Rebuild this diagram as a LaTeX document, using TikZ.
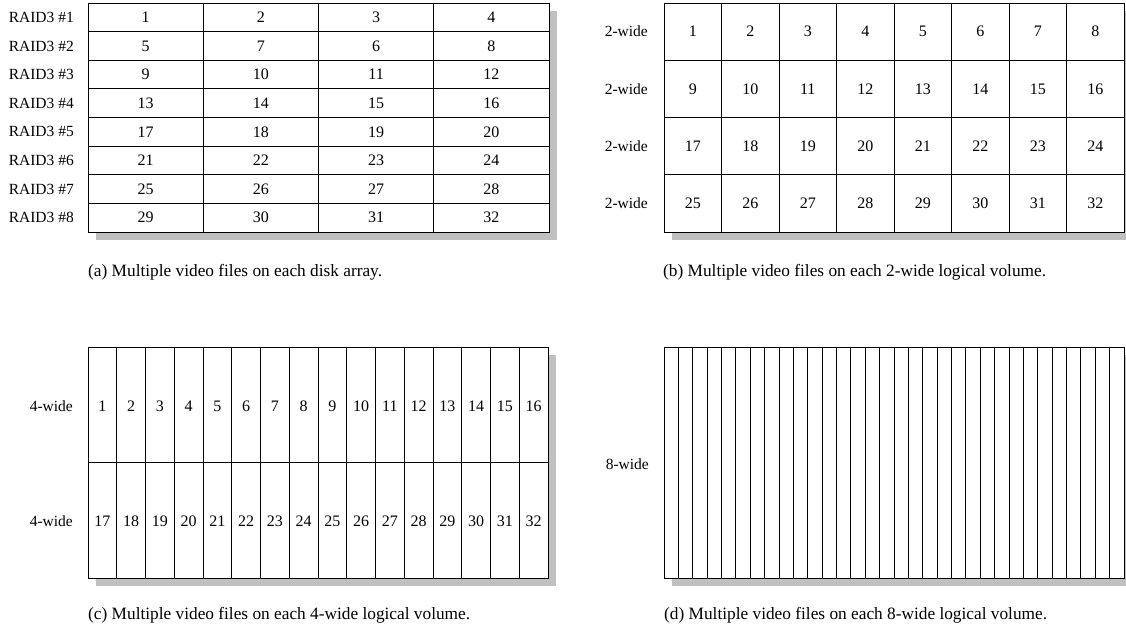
\documentclass[tikz,border=0pt]{standalone}
\usepackage{fontspec}
\setmainfont{Liberation Serif}
\usetikzlibrary{positioning}
\definecolor{shadow-grey}{HTML}{C0C0C0}
\tikzset{
  grid line/.style={black,line width=0.8pt},
  cell num/.style={font=\fontsize{16}{18}\selectfont,inner sep=0pt},
  row label/.style={font=\fontsize{15.5}{18}\selectfont,anchor=east,inner sep=0pt},
  caption/.style={font=\fontsize{17.3}{20}\selectfont,anchor=west,inner sep=0pt},
}

\begin{document}
\begin{tikzpicture}[x=1pt,y=-1pt]
  \useasboundingbox (0,0) rectangle (1126,631);

  % (a) one file set per RAID3 array
  \fill[shadow-grey] (96,11) rectangle (557,240);
  \fill[white] (88,3) rectangle (549,232);
  \foreach \r in {1,...,7}
    \draw[grid line] (88,3+\r*28.625) -- (549,3+\r*28.625);
  \foreach \c in {1,2,3}
    \draw[grid line] (88+\c*115.25,3) -- (88+\c*115.25,232);
  \draw[grid line] (88,3) rectangle (549,232);
  \foreach \n [count=\i from 0, evaluate=\i as \col using {int(mod(\i,4))},
               evaluate=\i as \row using {int(\i/4)}] in {1,2,3,4,5,7,6,8,9,10,...,32}
    \node[cell num] (a-\n) at (88+\col*115.25+57.625, 3+\row*28.625+14.3) {\n};
  \foreach \r in {1,...,8}
    \node[row label] (raid\r) at (74,3+\r*28.625-14.3) {RAID3 \#\r};
  \node[caption] (cap-a) at (88,272) {(a) Multiple video files on each disk array.};

  % (b) 2-wide volumes
  \fill[shadow-grey] (672,11) rectangle (1126,240);
  \fill[white] (664,3) rectangle (1124,232);
  \foreach \r in {1,2,3}
    \draw[grid line] (664,3+\r*57.25) -- (1124,3+\r*57.25);
  \foreach \c in {1,...,7}
    \draw[grid line] (664+\c*57.5,3) -- (664+\c*57.5,232);
  \draw[grid line] (664,3) rectangle (1124,232);
  \foreach \n [count=\i from 0, evaluate=\i as \col using {int(mod(\i,8))},
               evaluate=\i as \row using {int(\i/8)}] in {1,...,32}
    \node[cell num] (b-\n) at (664+\col*57.5+28.75, 3+\row*57.25+28.6) {\n};
  \foreach \r in {1,...,4}
    \node[row label] (two\r) at (648,3+\r*57.25-28.6) {2-wide};
  \node[caption] (cap-b) at (663,272) {(b) Multiple video files on each 2-wide logical volume.};

  % (c) 4-wide volumes
  \fill[shadow-grey] (96,355) rectangle (556,586);
  \fill[white] (88,347) rectangle (548,578);
  \draw[grid line] (88,462.5) -- (548,462.5);
  \foreach \c in {1,...,15}
    \draw[grid line] (88+\c*28.75,347) -- (88+\c*28.75,578);
  \draw[grid line] (88,347) rectangle (548,578);
  \foreach \n [count=\i from 0, evaluate=\i as \col using {int(mod(\i,16))},
               evaluate=\i as \row using {int(\i/16)}] in {1,...,32}
    \node[cell num] (c-\n) at (88+\col*28.75+14.375, 347+\row*115.5+59) {\n};
  \foreach \r in {1,2}
    \node[row label] (four\r) at (73,347+\r*115.5-56.5) {4-wide};
  \node[caption] (cap-c) at (88,615) {(c) Multiple video files on each 4-wide logical volume.};

  % (d) 8-wide volume
  \fill[shadow-grey] (672,355) rectangle (1126,586);
  \fill[white] (664,347) rectangle (1124,578);
  \foreach \c in {1,...,31}
    \draw[grid line] (664+\c*14.375,347) -- (664+\c*14.375,578);
  \draw[grid line] (664,347) rectangle (1124,578);
  \node[row label] (eight) at (649,464) {8-wide};
  \node[caption] (cap-d) at (664,615) {(d) Multiple video files on each 8-wide logical volume.};
\end{tikzpicture}
\end{document}
